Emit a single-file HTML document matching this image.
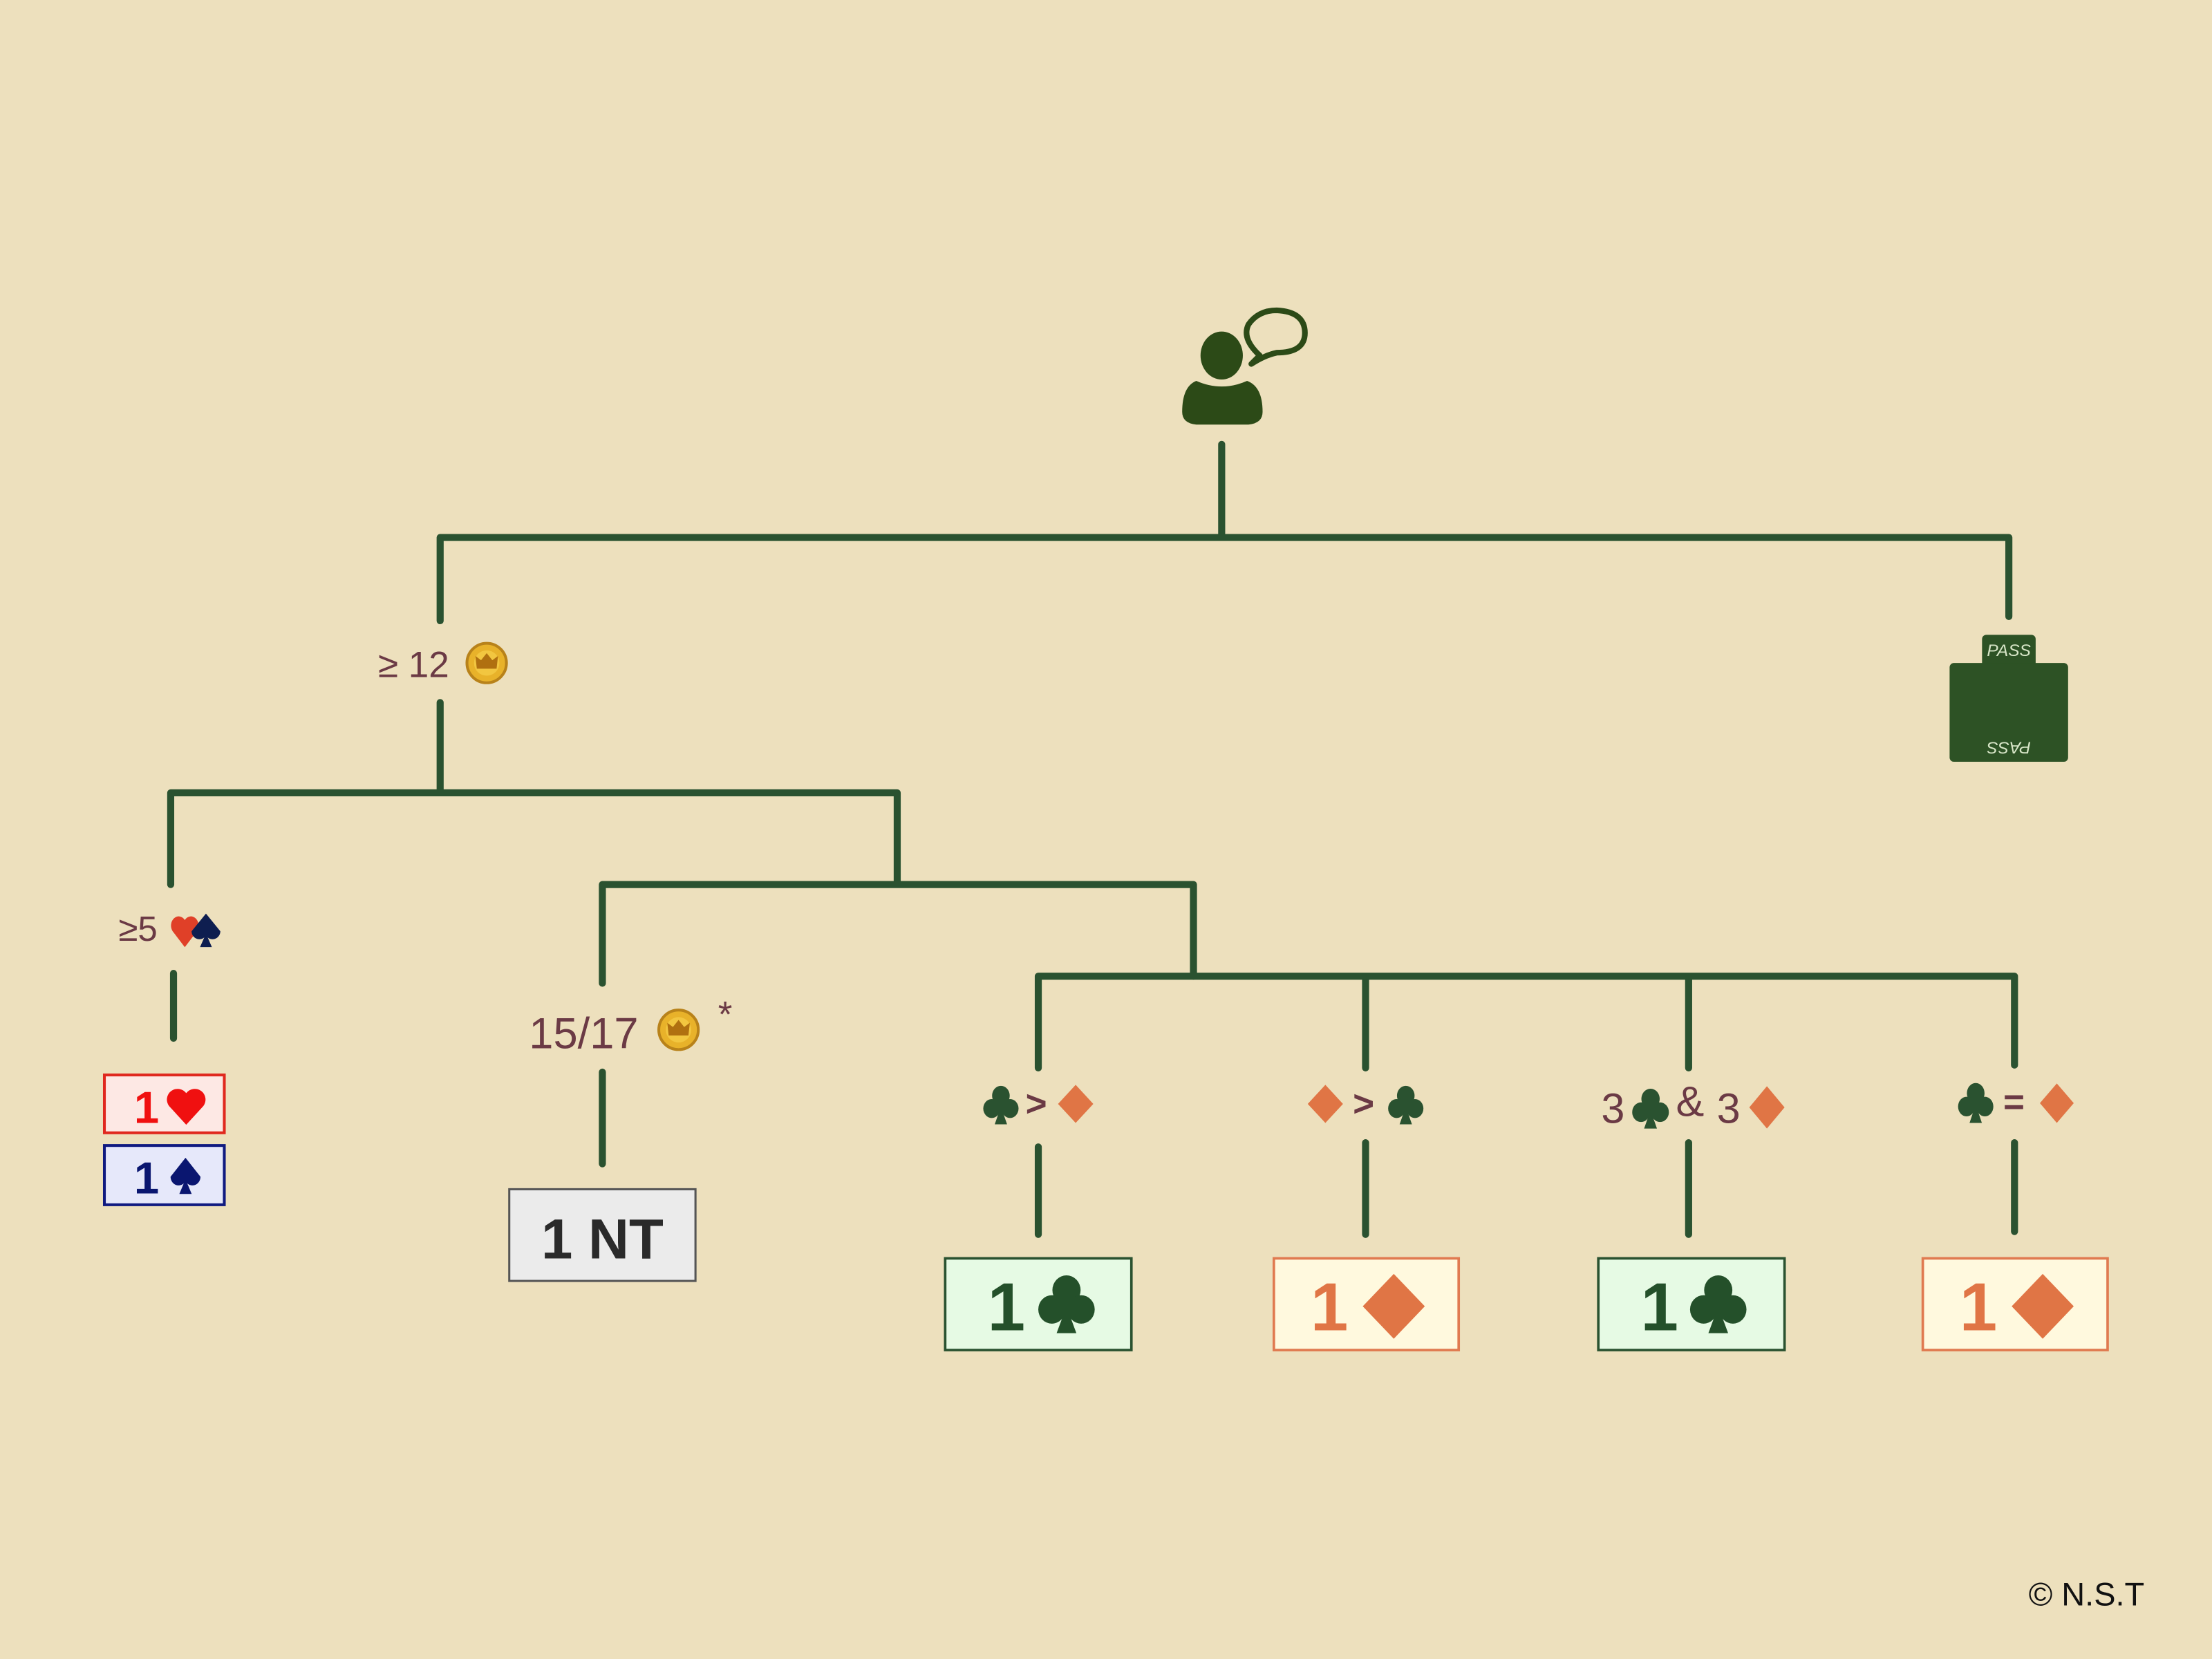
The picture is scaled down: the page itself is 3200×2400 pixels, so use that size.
<!DOCTYPE html>
<html><head><meta charset="utf-8"><style>
html,body{margin:0;padding:0;background:#EDE0BD;}
svg{display:block;}
text{font-family:"Liberation Sans","DejaVu Sans",sans-serif;}
</style></head><body>
<svg width="3200" height="2400" viewBox="0 0 1568 1176" xmlns="http://www.w3.org/2000/svg">
<defs>
<g id="club"><circle cx="10" cy="5.5" r="5"/><circle cx="4.8" cy="12" r="4.8"/><circle cx="15.2" cy="12" r="4.8"/><rect x="7" y="7" width="6" height="7"/><polygon points="10,11 6.5,20 13.5,20"/></g>
<polygon id="diam" points="10,0 20,10 10,20 0,10"/>
<path id="heart" d="M10 19.5 L1.3 10 A5.2 5.2 0 0 1 10 3.5 A5.2 5.2 0 0 1 18.7 10 Z"/>
<path id="spade" d="M10 0.5 L18.5 10.5 A4.6 4.6 0 0 1 11 14 L13.5 19.5 H6.5 L9 14 A4.6 4.6 0 0 1 1.5 10.5 Z"/>
</defs>
<rect width="1568" height="1176" fill="#EDE0BD"/>
<g stroke="#2A5230" stroke-width="5" stroke-linecap="round" fill="none">
<path d="M866 315V380M312 381H1424M312 381V440M1424 381V437"/>
<path d="M312 498V560M121 562H636M121 562V627M636 562V627M427 627H846M427 627V697M846 627V692"/>
<path d="M736 692H1428M736 692V757M968 692V757M1197 692V757M1428 692V755"/>
<path d="M123 690V736M427 760V825M736 813V875M968 810V875M1197 810V875M1428 810V873"/>
</g>
<!-- person -->
<g fill="#2C4A17">
<ellipse cx="866" cy="252" rx="15" ry="17"/>
<path d="M848 270 Q866 278 884 270 Q895 274 895 292 Q895 300 885 301 H848 Q838 300 838 292 Q838 274 848 270Z"/>
</g>
<path d="M893 252 Q880 240 885 230 Q892 220 905 220 Q925 221 925 236 Q925 250 905 250 Q896 252 887 258 Z" fill="none" stroke="#2C4A17" stroke-width="4" stroke-linejoin="round"/>
<!-- PASS -->
<g fill="#2D5225">
<rect x="1405" y="450" width="38" height="26" rx="3"/>
<rect x="1382" y="470" width="84" height="70" rx="3"/>
</g>
<text x="1424" y="465" font-family="Liberation Serif" font-style="italic" font-size="12" fill="#d8e6c8" text-anchor="middle">PASS</text>
<text transform="translate(1424,526) rotate(180)" font-family="Liberation Serif" font-style="italic" font-size="12" fill="#d8e6c8" text-anchor="middle">PASS</text>
<!-- labels -->
<g fill="#6B3A45">
<text x="268" y="480" font-size="26">≥ 12</text>
<text x="84" y="667" font-size="25">≥5</text>
<text x="375" y="743" font-size="31">15/17</text>
<text x="509" y="728" font-size="26">*</text>
</g>
<g>
<circle cx="345" cy="470" r="14" fill="#E8B22A" stroke="#B8821A" stroke-width="2"/>
<circle cx="345" cy="470" r="9" fill="#F2C640"/>
<path d="M338 474 L337 465 L341 468 L345 463 L349 468 L353 465 L352 474 Z" fill="#B07010"/>
<circle cx="481" cy="730" r="14" fill="#E8B22A" stroke="#B8821A" stroke-width="2"/>
<circle cx="481" cy="730" r="9" fill="#F2C640"/>
<path d="M474 734 L473 725 L477 728 L481 723 L485 728 L489 725 L488 734 Z" fill="#B07010"/>
</g>
<use href="#heart" transform="translate(121,648) scale(1.0,1.2)" fill="#E04028"/>
<use href="#spade" transform="translate(134,647) scale(1.2,1.25)" fill="#0E1E50"/>
<!-- 1H 1S boxes -->
<rect x="74" y="762" width="85" height="41" fill="#FDE8E4" stroke="#E0281E" stroke-width="2"/>
<text x="95" y="796" font-size="32" font-weight="bold" fill="#F01010">1</text>
<use href="#heart" transform="translate(118,770) scale(1.4)" fill="#F01010"/>
<rect x="74" y="812" width="85" height="42" fill="#E6E8FA" stroke="#101A80" stroke-width="2"/>
<text x="95" y="846" font-size="32" font-weight="bold" fill="#0A1670">1</text>
<use href="#spade" transform="translate(119,820) scale(1.25,1.35)" fill="#0A1670"/>
<!-- 1NT -->
<rect x="361" y="843" width="132" height="65" fill="#EBEBEB" stroke="#555" stroke-width="1.5"/>
<text x="427" y="892" font-size="40" font-weight="bold" fill="#2a2a2a" text-anchor="middle">1 NT</text>
<!-- mini labels -->
<g font-size="26" font-weight="bold" fill="#6B3A45">
<use href="#club" transform="translate(697,769) scale(1.25,1.4)" fill="#2A5230"/>
<text x="727" y="791">&gt;</text>
<use href="#diam" transform="translate(750,769) scale(1.25,1.35)" fill="#E07545"/>
<use href="#diam" transform="translate(927,769) scale(1.25,1.35)" fill="#E07545"/>
<text x="959" y="791">&gt;</text>
<use href="#club" transform="translate(984,769) scale(1.25,1.4)" fill="#2A5230"/>
<text x="1135" y="796" font-size="30" font-weight="normal">3</text>
<use href="#club" transform="translate(1157,771) scale(1.3,1.45)" fill="#2A5230"/>
<text x="1188" y="791" font-size="30" font-weight="normal">&amp;</text>
<text x="1217" y="796" font-size="30" font-weight="normal">3</text>
<use href="#diam" transform="translate(1240,770) scale(1.25,1.5)" fill="#E07545"/>
<use href="#club" transform="translate(1388,767) scale(1.25,1.45)" fill="#2A5230"/>
<text x="1420" y="790">=</text>
<use href="#diam" transform="translate(1446,768) scale(1.2,1.4)" fill="#E07545"/>
</g>
<!-- result boxes -->
<g stroke-width="1.8">
<rect x="670" y="892" width="132" height="65" fill="#E6FAE4" stroke="#2A5230"/>
<rect x="903" y="892" width="131" height="65" fill="#FFF9DE" stroke="#E07A50"/>
<rect x="1133" y="892" width="132" height="65" fill="#E6FAE4" stroke="#2A5230"/>
<rect x="1363" y="892" width="131" height="65" fill="#FFF9DE" stroke="#E07A50"/>
</g>
<g font-size="48" font-weight="bold">
<text x="700" y="943" fill="#24502A">1</text>
<use href="#club" transform="translate(736,903) scale(2.0,2.1)" fill="#24502A"/>
<text x="929" y="943" fill="#E07545">1</text>
<use href="#diam" transform="translate(966,903) scale(2.2,2.3)" fill="#E07545"/>
<text x="1163" y="943" fill="#24502A">1</text>
<use href="#club" transform="translate(1198,903) scale(2.0,2.1)" fill="#24502A"/>
<text x="1389" y="943" fill="#E07545">1</text>
<use href="#diam" transform="translate(1426,903) scale(2.2,2.3)" fill="#E07545"/>
</g>
<text x="1438" y="1138" font-size="23" fill="#111">© N.S.T</text>
</svg>
</body></html>
